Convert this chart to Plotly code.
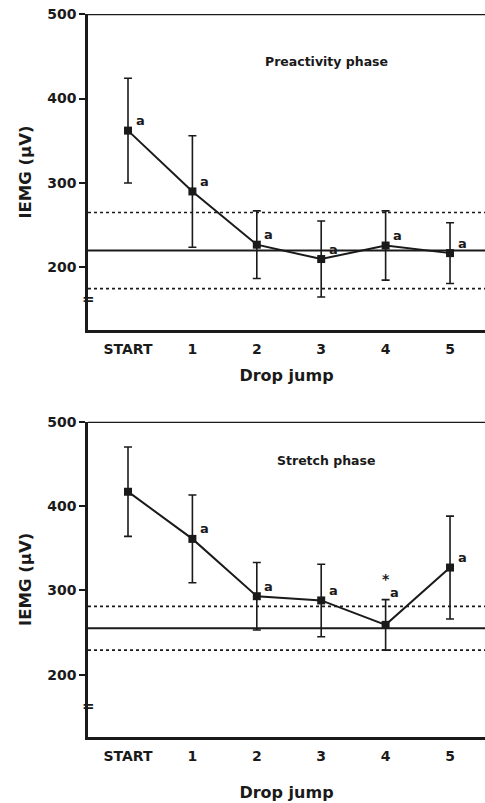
import plotly.graph_objects as go
from plotly.subplots import make_subplots

# Drop-jump sequence
categories = ["START", "1", "2", "3", "4", "5"]

# Preactivity phase: mean IEMG and SD (µV)
pre_mean = [362, 290, 227, 210, 226, 217]
pre_sd = [62, 66, 40, 45, 41, 36]
pre_sig = ["a", "a", "a", "a", "a", "a"]
pre_ref_mean = 220
pre_ref_sd = 45

# Stretch phase: mean IEMG and SD (µV)
str_mean = [417, 361, 293, 288, 259, 327]
str_sd = [53, 52, 40, 43, 30, 61]
str_sig = ["", "a", "a", "a", "a", "a"]
str_star = ["", "", "", "", "*", ""]
str_ref_mean = 255
str_ref_sd = 26

y_ticks = [200, 300, 400, 500]
y_range = [126, 500]
break_at = 163

FONT = "DejaVu Sans"
INK = "#1a1a1a"

H, W, L, T, B = 803, 485, 88, 14, 66

fig = make_subplots(rows=2, cols=1, vertical_spacing=0.1268)
fig.update_layout(
    yaxis=dict(domain=[0.5629, 1.0]),
    yaxis2=dict(domain=[0.0, 0.4361]),
)

xpos = list(range(len(categories)))

panels = [
    (1, pre_mean, pre_sd, pre_sig, None, pre_ref_mean, pre_ref_sd),
    (2, str_mean, str_sd, str_sig, str_star, str_ref_mean, str_ref_sd),
]

for row, mean, sd, sig, star, ref_m, ref_sd in panels:
    xa = "x" if row == 1 else "x2"
    ya = "y" if row == 1 else "y2"
    # reference band: solid mean, dotted +/- SD
    for val, dash, w in [(ref_m, "solid", 2), (ref_m + ref_sd, "dot", 1.6), (ref_m - ref_sd, "dot", 1.6)]:
        fig.add_shape(type="line", xref=f"{xa} domain", yref=ya, x0=0, x1=1, y0=val, y1=val,
                      line=dict(color=INK, width=w, dash=dash), layer="below")
    fig.add_trace(go.Scatter(
        x=xpos, y=mean,
        error_y=dict(type="data", array=sd, visible=True, color=INK, thickness=1.6, width=4),
        mode="lines+markers",
        line=dict(color=INK, width=2),
        marker=dict(symbol="square", size=8, color=INK),
        showlegend=False,
    ), row=row, col=1)
    for i, s in enumerate(sig):
        if not s:
            continue
        has_star = star is not None and bool(star[i])
        fig.add_annotation(x=xpos[i], y=mean[i], xref=xa, yref=ya, text=f"<b>{s}</b>", showarrow=False,
                           xshift=9 if has_star else 12, yshift=32 if has_star else 10,
                           font=dict(family=FONT, size=13, color=INK))
    if star is not None:
        for i, s in enumerate(star):
            if s:
                fig.add_annotation(x=xpos[i], y=mean[i], xref=xa, yref=ya, text=f"<b>{s}</b>",
                                   showarrow=False, xshift=0, yshift=46,
                                   font=dict(family=FONT, size=14, color=INK))
    # axis break marks
    fig.add_annotation(x=0, y=break_at, xref=f"{xa} domain", yref=ya, text="<b>=</b>", showarrow=False,
                       xanchor="center", yanchor="middle", font=dict(family=FONT, size=15, color=INK))


def px(xp, yp):
    return (xp - L) / (W - L), (H - B - yp) / (H - T - B)


# phase labels
for text, xp, yp in [("Preactivity phase", 390, 52), ("Stretch phase", 377, 460)]:
    xx, yy = px(xp, yp)
    fig.add_annotation(x=xx, y=yy, xref="paper", yref="paper", text=f"<b>{text}</b>",
                       showarrow=False, font=dict(family=FONT, size=12.5, color=INK))

for r, standoff in ((1, 15), (2, 25)):
    fig.update_xaxes(
        row=r, col=1, range=[-0.621, 5.543], tickvals=xpos, ticktext=[f"<b>{c}</b>" for c in categories],
        showline=True, linecolor=INK, linewidth=2.5, ticks="", showgrid=False, zeroline=False,
        ticklabelstandoff=4,
        tickfont=dict(family=FONT, size=14, color=INK),
        title=dict(text="<b>Drop jump</b>", font=dict(family=FONT, size=16, color=INK), standoff=standoff),
    )
    fig.update_yaxes(
        row=r, col=1, range=y_range, tickvals=y_ticks, ticktext=[f"<b>{t}</b>" for t in y_ticks],
        showline=True, linecolor=INK, linewidth=2.5, mirror=False, ticks="outside", ticklen=6,
        tickwidth=1.5, tickcolor=INK, showgrid=False, zeroline=False,
        tickfont=dict(family=FONT, size=14, color=INK),
        title=dict(text="<b>IEMG (\u03bcV)</b>", font=dict(family=FONT, size=16.5, color=INK), standoff=12),
    )

# top frame line on each panel
for ya in ("y", "y2"):
    xa = "x" if ya == "y" else "x2"
    fig.add_shape(type="line", xref=f"{xa} domain", yref=ya, x0=0, x1=1, y0=y_range[1], y1=y_range[1],
                  line=dict(color=INK, width=2.5))

fig.update_layout(
    width=W, height=H,
    margin=dict(l=L, r=0, t=T, b=B),
    paper_bgcolor="white", plot_bgcolor="white",
    font=dict(family=FONT, color=INK),
)

fig.write_html("out.html")
